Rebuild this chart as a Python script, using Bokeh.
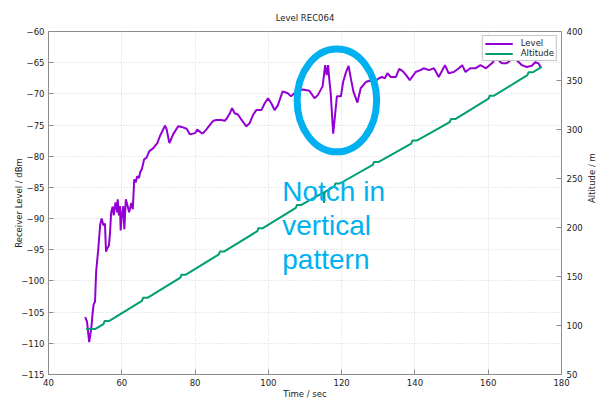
import math

from bokeh.plotting import figure
from bokeh.models import (Range1d, LinearAxis, FixedTicker, Legend, LegendItem,
                          ColumnDataSource)
from bokeh.core.properties import value
from bokeh.embed import file_html
from bokeh.resources import INLINE

# Receiver level (dBm) over flight time (s)
time_level = [50.0, 50.5, 51.1, 51.7, 52.0, 52.3, 52.7, 53.0, 53.6, 54.1, 54.5, 55.0,
              55.4, 55.7, 56.0, 56.5, 56.8, 57.1, 57.5, 57.8, 58.0, 58.3, 58.7, 58.9,
              59.2, 59.5, 59.7, 60.0, 60.4, 60.7, 61.1, 61.6, 62.0, 62.6, 63.0, 63.4,
              63.8, 64.2, 64.7, 65.0, 65.5, 66.1, 66.8, 67.5, 68.6, 69.7, 70.4, 71.8,
              72.2, 73.0, 74.0, 75.4, 76.3, 77.7, 78.6, 80.0, 80.6, 81.8, 82.2, 83.1,
              84.0, 85.0, 85.8, 87.2, 88.1, 88.6, 89.5, 90.1, 90.8, 91.7, 92.6, 94.0,
              94.9, 95.8, 96.7, 98.1, 99.0, 99.9, 100.8, 101.7, 102.6, 103.9, 105.3,
              106.2, 107.6, 109.4, 111.2, 112.6, 113.5, 114.8, 115.5, 115.9, 116.3,
              116.6, 117.0, 117.7, 118.3, 118.7, 119.8, 120.4, 121.2, 121.9, 122.5,
              123.2, 124.3, 125.2, 126.6, 127.5, 128.9, 130.2, 131.0, 131.8, 132.5,
              133.4, 134.8, 135.7, 136.6, 137.6, 138.6, 140.2, 141.5, 142.4, 143.8,
              145.2, 146.5, 148.2, 149.2, 150.6, 152.0, 152.9, 153.8, 155.1, 156.5,
              157.9, 159.4, 161.0, 162.2, 163.7, 165.1, 166.0, 166.9, 167.8, 169.2,
              170.5, 171.9, 172.9, 173.7, 174.4]
level_dbm = [-105.8, -106.5, -109.8, -107.5, -105.4, -103.8, -103.3, -98.5, -94.8, -91.0,
             -90.0, -91.1, -90.8, -95.3, -94.8, -94.3, -92.2, -89.0, -88.1, -89.5, -88.4,
             -87.4, -89.0, -86.9, -89.5, -88.0, -91.9, -89.5, -88.0, -91.7, -86.9, -88.0,
             -89.0, -87.5, -88.5, -83.7, -84.2, -83.2, -83.5, -82.6, -82.0, -80.5, -80.2,
             -79.2, -78.7, -77.9, -76.8, -75.1, -75.6, -77.9, -76.5, -75.2, -75.3, -75.6,
             -76.5, -76.3, -75.7, -76.3, -76.3, -75.7, -75.0, -74.3, -74.2, -74.2, -74.3,
             -74.0, -73.1, -72.3, -73.1, -73.3, -74.1, -75.2, -74.7, -73.4, -72.6, -72.6,
             -71.5, -70.7, -71.5, -72.6, -71.8, -69.6, -69.9, -70.4, -69.6, -69.3, -69.5,
             -70.7, -70.2, -68.8, -65.4, -67.0, -65.4, -67.5, -69.8, -76.4, -72.8, -70.4,
             -70.4, -68.1, -66.5, -65.5, -67.5, -69.6, -71.4, -69.1, -68.1, -67.9, -68.1,
             -67.5, -67.3, -67.5, -66.7, -67.3, -67.3, -66.0, -66.3, -67.0, -67.8, -66.5,
             -66.2, -65.9, -66.2, -65.9, -67.3, -65.4, -66.7, -66.5, -65.9, -65.4, -66.5,
             -65.9, -65.9, -65.4, -65.9, -65.1, -64.2, -65.1, -65.1, -64.6, -63.9, -64.6,
             -65.4, -65.7, -65.5, -64.9, -65.1, -65.8]

# Altitude (m) over flight time (s)
time_alt = [50.3, 52.8, 55.0, 55.3, 56.5, 65.5, 65.8, 67.0, 76.0, 76.3, 77.5, 86.5, 86.8,
            88.0, 97.0, 97.3, 98.5, 107.5, 107.8, 109.0, 115.1, 115.2, 115.35, 118.0,
            118.3, 119.5, 128.5, 128.8, 130.0, 139.0, 139.3, 140.5, 149.5, 149.8, 151.0,
            160.1, 160.4, 161.6, 170.7, 171.0, 172.2, 174.6]
altitude_m = [96.5, 96.5, 101.5, 104.5, 104.5, 125.2, 128.2, 128.2, 148.9, 151.9, 151.9,
              172.6, 175.6, 175.6, 196.3, 199.3, 199.3, 220.0, 223.0, 223.0, 235.8, 225.0,
              236.1, 241.9, 244.9, 244.9, 263.8, 266.8, 266.8, 285.7, 288.7, 288.7, 307.6,
              310.6, 310.6, 331.5, 334.5, 334.5, 355.4, 358.4, 358.4, 363.9]

x_ticks = [40, 60, 80, 100, 120, 140, 160, 180]
level_ticks = [-115, -110, -105, -100, -95, -90, -85, -80, -75, -70, -65, -60]
alt_ticks = [50, 100, 150, 200, 250, 300, 350, 400]

# Callout around the dip in the level trace
notch_time, notch_level = 118.7, -71.05
notch_span_time, notch_span_level = 21.7, 16.5
note_lines = ["Notch in", "vertical", "pattern"]
note_time = 103.8
note_levels = [-85.6, -91.1, -96.5]

FONT = "DejaVu Sans"
SMALL = "8.5px"
GREY = "#8c8c8c"
CALLOUT = "#00B0F0"

p = figure(width=604, height=401, output_backend="svg", toolbar_location=None,
           x_range=Range1d(40, 180), y_range=Range1d(-115, -60),
           min_border_left=48, min_border_right=42, min_border_top=31,
           min_border_bottom=24, title="Level REC064")
p.extra_y_ranges = {"alt": Range1d(50, 400)}

p.title.align = "center"
p.title.vertical_align = "top"
p.title.text_font = FONT
p.title.text_font_size = SMALL
p.title.text_font_style = "normal"
p.title.text_color = "#222222"
p.title.standoff = 13

p.outline_line_color = GREY
p.outline_line_width = 1
p.background_fill_color = "white"
p.border_fill_color = "white"

right_axis = LinearAxis(y_range_name="alt", axis_label="Altitude / m")
p.add_layout(right_axis, "right")

p.xaxis.axis_label = "Time / sec"
p.yaxis[0].axis_label = "Receiver Level / dBm"
p.xaxis.ticker = FixedTicker(ticks=x_ticks)
p.yaxis[0].ticker = FixedTicker(ticks=level_ticks)
right_axis.ticker = FixedTicker(ticks=alt_ticks)

for ax in p.xaxis + p.yaxis:
    ax.axis_line_color = None
    ax.major_tick_in = 5
    ax.major_tick_out = 0
    ax.major_tick_line_color = GREY
    ax.minor_tick_line_color = None
    ax.major_label_text_font = FONT
    ax.major_label_text_font_size = SMALL
    ax.major_label_text_color = "#222222"
    ax.axis_label_text_font = FONT
    ax.axis_label_text_font_size = SMALL
    ax.axis_label_text_font_style = "normal"
    ax.axis_label_text_color = "#222222"

p.xaxis.major_label_standoff = 4
p.xaxis.axis_label_standoff = 0
p.yaxis[0].major_label_standoff = 4
p.yaxis[0].axis_label_standoff = -6
right_axis.major_label_standoff = 5
right_axis.axis_label_standoff = 6
if "axis_label_orientation" in LinearAxis.properties():
    # read bottom-to-top, like the left axis label
    right_axis.axis_label_orientation = math.pi / 2

for g in (p.xgrid, p.ygrid):
    g.grid_line_color = "#d4d4d4"
    g.grid_line_dash = "1 2"
    g.grid_line_width = 1
p.xgrid.ticker = FixedTicker(ticks=x_ticks)
p.ygrid.ticker = FixedTicker(ticks=level_ticks)

level_src = ColumnDataSource(data=dict(t=time_level, v=level_dbm))
alt_src = ColumnDataSource(data=dict(t=time_alt, v=altitude_m))

r_level = p.line("t", "v", source=level_src, line_color="#9400D3", line_width=2)
r_alt = p.line("t", "v", source=alt_src, line_color="#009E73", line_width=2,
               y_range_name="alt")

legend = Legend(items=[LegendItem(label="Level", renderers=[r_level]),
                       LegendItem(label="Altitude", renderers=[r_alt])],
                location="top_right")
legend.margin = 4
legend.padding = 2
legend.spacing = 0
legend.label_height = 9
legend.glyph_height = 9
legend.glyph_width = 28
legend.label_standoff = 8
legend.label_text_font = FONT
legend.label_text_font_size = SMALL
legend.label_text_color = "#222222"
legend.border_line_color = GREY
legend.border_line_width = 1
legend.background_fill_alpha = 1.0
p.add_layout(legend)

# Callout ellipse and note text
p.ellipse(x=[notch_time], y=[notch_level], width=[notch_span_time],
          height=[notch_span_level], fill_alpha=0, line_color=CALLOUT, line_width=7)
note_src = ColumnDataSource(data=dict(t=[note_time] * len(note_lines), v=note_levels,
                                      txt=note_lines))
p.text("t", "v", text="txt", source=note_src, text_color=CALLOUT,
       text_font=value("Liberation Sans"), text_font_size="28px",
       text_baseline="alphabetic", text_align="left")

open("out.html", "w").write(file_html(p, INLINE))
